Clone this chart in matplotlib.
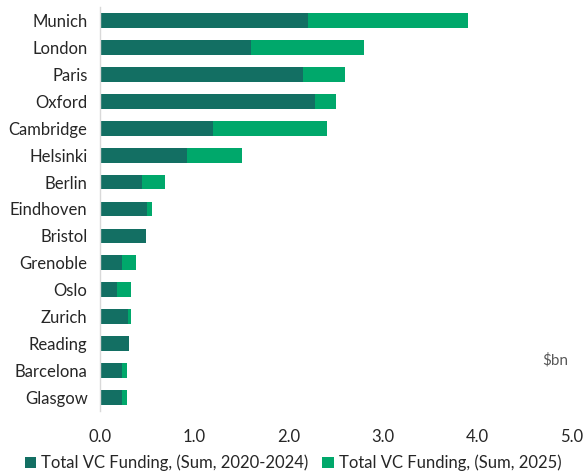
import matplotlib
matplotlib.use("Agg")
import matplotlib.pyplot as plt

cities = ["Munich", "London", "Paris", "Oxford", "Cambridge", "Helsinki", "Berlin",
          "Eindhoven", "Bristol", "Grenoble", "Oslo", "Zurich", "Reading", "Barcelona", "Glasgow"]
funding_2020_2024 = [2.2, 1.6, 2.15, 2.28, 1.2, 0.92, 0.45, 0.50, 0.49, 0.23, 0.18, 0.30, 0.31, 0.23, 0.23]
funding_2025 = [1.7, 1.2, 0.45, 0.22, 1.2, 0.58, 0.24, 0.05, 0.0, 0.15, 0.15, 0.03, 0.0, 0.06, 0.06]
xticks = [0.0, 1.0, 2.0, 3.0, 4.0, 5.0]

dark = "#136F63"
light = "#00A86B"

plt.rcParams['font.family'] = ['Lato', 'DejaVu Sans']

fig = plt.figure(figsize=(5.86, 4.74), dpi=100)
ax = fig.add_axes([100/586, 1 - 411/474, (572-100)/586, (411-7)/474])

y = list(range(len(cities)))
ax.barh(y, funding_2020_2024, height=0.55, color=dark, label="Total VC Funding, (Sum, 2020-2024)")
ax.barh(y, funding_2025, left=funding_2020_2024, height=0.55, color=light,
        label="Total VC Funding, (Sum, 2025)")

ax.set_ylim(len(cities) - 0.5, -0.5)
ax.set_xlim(0, 5.0)
ax.set_yticks(y)
ax.set_yticklabels(cities, fontsize=12, color="#262626")
ax.set_xticks(xticks)
ax.set_xticklabels([f"{v:.1f}" for v in xticks], fontsize=12, color="#262626")
ax.tick_params(axis='both', length=0)
ax.tick_params(axis='x', pad=13)
ax.tick_params(axis='y', pad=9)
for s in ["top", "right", "bottom"]:
    ax.spines[s].set_visible(False)
ax.spines["left"].set_color("#D9D9D9")
ax.spines["left"].set_linewidth(1)

fig.text(555/586, 1 - 360/474, "$bn", fontsize=11, color="#595959", ha="center", va="center")

fig.legend(loc="center", bbox_to_anchor=(0.5, 1 - 463/474), ncol=2, frameon=False,
           fontsize=12, handlelength=0.7, handleheight=0.7, handletextpad=0.3,
           columnspacing=0.8, labelcolor="#262626", borderaxespad=0, borderpad=0)

fig.savefig("out.png", dpi=100)
